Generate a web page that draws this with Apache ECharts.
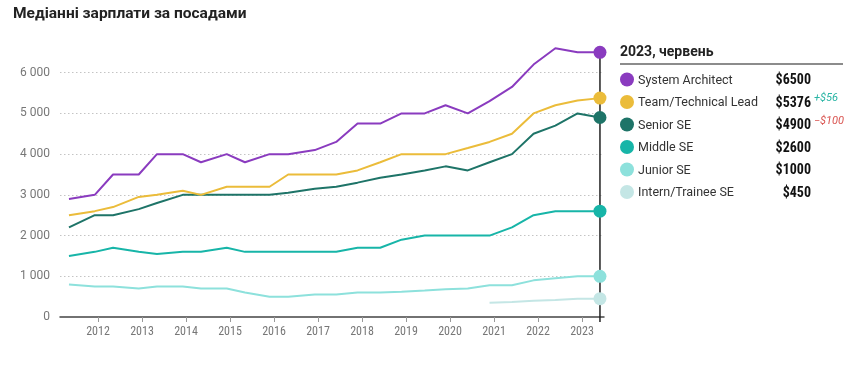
<!DOCTYPE html>
<html>
<head>
<meta charset="utf-8">
<script src="https://cdn.jsdelivr.net/npm/echarts@6/dist/echarts.min.js"></script>
<style>
html,body{margin:0;padding:0;background:#fff;}
#c{width:859px;height:367px;}
</style>
</head>
<body>
<div id="c"></div>
<script>
const title = 'Медіанні зарплати за посадами';
const panelTitle = '2023, червень';
const dates = ['2011-05-05','2011-12-05','2012-05-05','2012-12-05','2013-05-05','2013-12-05','2014-05-05','2014-12-05','2015-05-05','2015-11-25','2016-04-28','2016-12-05','2017-06-01','2017-11-25','2018-06-01','2018-11-25','2019-06-05','2019-11-25','2020-05-28','2020-11-25','2021-05-30','2021-11-25','2022-05-25','2022-11-25','2023-05-30'];
const yearTicks = [2012,2013,2014,2015,2016,2017,2018,2019,2020,2021,2022,2023];
const names = ['System Architect','Team/Technical Lead','Senior SE','Middle SE','Junior SE','Intern/Trainee SE'];
const architect = [2900,3000,3500,3500,4000,4000,3800,4000,3800,4000,4000,4100,4300,4750,4750,5000,5000,5200,5000,5300,5650,6200,6600,6500,6500];
const teamLead = [2500,2600,2700,2950,3000,3100,3000,3200,3200,3200,3500,3500,3500,3600,3800,4000,4000,4000,4150,4300,4500,5000,5200,5320,5376];
const senior = [2200,2500,2500,2650,2800,3000,3000,3000,3000,3000,3050,3150,3200,3300,3420,3500,3600,3700,3600,3800,4000,4500,4700,5000,4900];
const middle = [1500,1600,1700,1600,1550,1600,1600,1700,1600,1600,1600,1600,1600,1700,1700,1900,2000,2000,2000,2000,2200,2500,2600,2600,2600];
const junior = [800,750,750,700,750,750,700,700,600,500,500,550,550,600,600,620,650,680,700,780,780,900,950,1000,1000];
const intern = [null,null,null,null,null,null,null,null,null,null,null,null,null,null,null,null,null,null,null,350,370,400,420,450,450];
const latestValues = ['$6500','$5376','$4900','$2600','$1000','$450'];
const changes = ['', '+$56', '−$100', '', '', ''];
const changeColors = ['', '#2bb5a5', '#d9534f', '', '', ''];
const colors = ['#8a3bbf','#ebbc3a','#1e7468','#17b5a8','#8de1dc','#c4e6e5'];
const allSeries = [architect, teamLead, senior, middle, junior, intern];

function decYear(s){
  const [y,m,d] = s.split('-').map(Number);
  const t = Date.UTC(y,m-1,d), a = Date.UTC(y,0,1), b = Date.UTC(y+1,0,1);
  return y + (t-a)/(b-a);
}
const xs = dates.map(decYear);
const lastX = xs[xs.length-1];

const chart = echarts.init(document.getElementById('c'));
const FONT = 'Roboto';
const COND = '"Roboto Condensed", "Liberation Sans Narrow", "Arial Narrow", Roboto';

const series = allSeries.map((vals, i) => ({
  type: 'line',
  name: names[i],
  data: vals.map((v, j) => {
    const item = {value: [xs[j], v]};
    if (j === vals.length - 1) { item.symbol = 'circle'; item.symbolSize = 13; }
    return item;
  }).filter(d => d.value[1] !== null),
  symbol: 'none',
  showSymbol: true,
  lineStyle: {color: colors[i], width: 2},
  itemStyle: {color: colors[i]},
  clip: false,
  z: 10 - i,
  silent: true,
  animation: false
}));

series.push({
  type: 'line',
  data: [[lastX, -120], [lastX, Math.max(...allSeries.map(a => a[a.length-1]))]],
  symbol: 'none',
  lineStyle: {color: '#222', width: 1.5},
  clip: false,
  z: 1,
  silent: true,
  animation: false
});

const graphic = [
  {type:'text', left: 13, top: 6, style:{text: title, font: `bold 15.5px ${FONT}`, fill:'#222'}},
  {type:'text', left: 620, top: 45, style:{text: panelTitle, font: `bold 14px ${FONT}`, fill:'#222'}},
  {type:'line', shape:{x1:620, y1:64, x2:843, y2:64}, style:{stroke:'#666', lineWidth:1.5}}
];
const rowY = [79.5, 102, 124.5, 147, 169.5, 192];
names.forEach((n, i) => {
  const y = rowY[i];
  graphic.push({type:'circle', shape:{cx:627, cy:y, r:7}, style:{fill: colors[i]}});
  graphic.push({type:'text', x:638, y:y + 1, style:{text:n, font:`12.5px ${FONT}`, fill:'#333', verticalAlign:'middle'}});
  graphic.push({type:'text', x:811, y:y + 1, style:{text:latestValues[i], font:`bold 14px ${COND}`, fill:'#111', align:'right', verticalAlign:'middle'}});
  if (changes[i]) {
    graphic.push({type:'text', x:814, y:y - 3.5, style:{text:changes[i], font:`italic 11px ${FONT}`, fill:changeColors[i], verticalAlign:'middle'}});
  }
});

chart.setOption({
  animation: false,
  grid: {left: 60, right: 255, top: 32, bottom: 50},
  xAxis: {
    type: 'value',
    min: 2011.136,
    max: 2023.5,
    axisLine: {show: true, lineStyle: {color: '#444', width: 1.5}},
    axisTick: {show: true, customValues: yearTicks, length: 5, lineStyle: {color: '#999'}},
    axisLabel: {customValues: yearTicks, color: '#777', fontFamily: COND, fontSize: 12, margin: 9, formatter: v => String(v)},
    splitLine: {show: false}
  },
  yAxis: {
    type: 'value',
    min: 0,
    max: 7000,
    interval: 1000,
    axisLine: {show: false},
    axisTick: {show: false},
    axisLabel: {
      color: '#777', fontFamily: FONT, fontSize: 12, margin: 10, showMaxLabel: false,
      formatter: v => v >= 1000 ? String(v).replace(/\B(?=(\d{3})+(?!\d))/g, ' ') : String(v)
    },
    splitLine: {show: true, showMinLine: false, showMaxLine: false, lineStyle: {color: '#c4c4c4', type: [1.5, 2.5], width: 1}}
  },
  graphic: graphic,
  series: series
});
</script>
</body>
</html>
